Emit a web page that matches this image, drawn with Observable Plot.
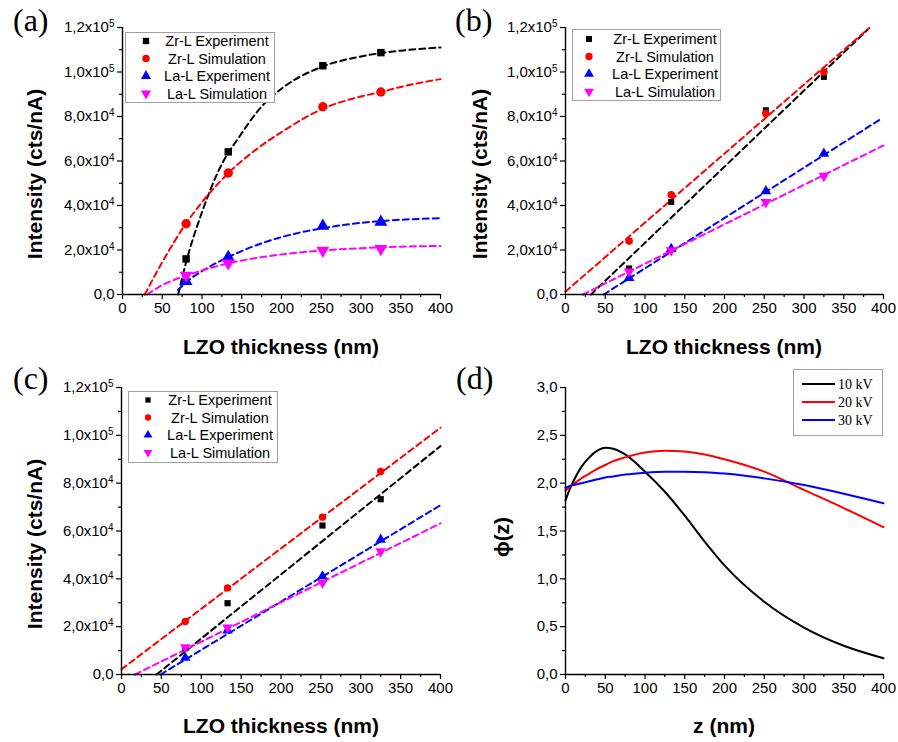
<!DOCTYPE html>
<html><head><meta charset="utf-8">
<script src="https://cdn.jsdelivr.net/npm/d3@7"></script>
<script src="https://cdn.jsdelivr.net/npm/@observablehq/plot@0.6"></script>
<style>
body{margin:0;background:#fff;}
#wrap{position:relative;width:898px;height:742px;overflow:hidden;background:#fff;}
#wrap > svg{position:absolute;}
</style></head><body><div id="wrap"></div>
<script>
// ---------- data ----------
const thickness = [80, 133, 252, 325];
const thicknessTicks = [0, 50, 100, 150, 200, 250, 300, 350, 400];
const thicknessMinor = [25, 75, 125, 175, 225, 275, 325, 375];
const intensityTicks = [0, 20000, 40000, 60000, 80000, 100000, 120000];
const intensityMinor = [10000, 30000, 50000, 70000, 90000, 110000];
const phiTicks = [0, 0.5, 1, 1.5, 2, 2.5, 3];
const phiMinor = [0.25, 0.75, 1.25, 1.75, 2.25, 2.75];

const series = ["Zr-L Experiment", "Zr-L Simulation", "La-L Experiment", "La-L Simulation"];
const seriesColors = ["#000000", "#ff0000", "#0000ff", "#ff00ff"];

// panel (a)
const aZrExp = [16000, 64100, 102800, 108700];
const aZrSim = [31800, 54600, 84400, 91000];
const aLaExp = [6000, 16800, 30800, 32600];
const aLaSim = [8600, 14100, 19800, 20600];
const aZrExpFitX = [70, 80, 100, 120, 150, 175, 200, 252, 300, 325, 350, 400];
const aZrExpFitY = [0, 14500, 37000, 55000, 72500, 84500, 92500, 102500, 107000, 108500, 109600, 111000];
const aZrSimFitX = [28, 50, 80, 100, 133, 175, 200, 252, 300, 325, 350, 400];
const aZrSimFitY = [0, 14500, 32000, 41500, 54500, 67000, 73000, 83500, 89000, 91000, 93300, 96800];
const aLaExpFitX = [70, 80, 100, 133, 175, 200, 252, 300, 325, 350, 400];
const aLaExpFitY = [2000, 5500, 10500, 16800, 23000, 25800, 29800, 32200, 33000, 33600, 34300];
const aLaSimFitX = [31, 50, 80, 100, 133, 175, 200, 252, 300, 325, 350, 400];
const aLaSimFitY = [0, 4200, 8500, 10800, 14000, 16800, 18000, 19800, 20800, 21200, 21500, 21800];

// panel (b)
const bZrExp = [11700, 41600, 82800, 97800];
const bZrSim = [24000, 44800, 81300, 100000];
const bLaExp = [7500, 20500, 46400, 63300];
const bLaSim = [10300, 19800, 41500, 53300];
const bZrExpFitX = [32, 380];   const bZrExpFitY = [0, 119000];
const bZrSimFitX = [0, 382];    const bZrSimFitY = [1300, 119800];
const bLaExpFitX = [48, 395];   const bLaExpFitY = [0, 78500];
const bLaSimFitX = [22, 400];   const bLaSimFitY = [0, 67000];

// panel (c)
const cZrExp = [11000, 29800, 62300, 73300];
const cZrSim = [22200, 36200, 65800, 84900];
const cLaExp = [7000, 18400, 41100, 56400];
const cLaSim = [11400, 19600, 38400, 51500];
const cZrExpFitX = [44, 400];   const cZrExpFitY = [0, 95500];
const cZrSimFitX = [0, 400];    const cZrSimFitY = [2200, 103200];
const cLaExpFitX = [49, 400];   const cLaExpFitY = [0, 70800];
const cLaSimFitX = [17, 400];   const cLaSimFitY = [0, 63200];

// panel (d)
const voltages = ["10 kV", "20 kV", "30 kV"];
const voltageColors = ["#000000", "#ff0000", "#0000ff"];
const dZ = [0, 5, 10, 20, 30, 40, 50, 60, 75, 100, 125, 150, 175, 200, 250, 300, 350, 400];
const d10 = [1.82, 1.93, 2.02, 2.17, 2.27, 2.34, 2.37, 2.36, 2.30, 2.12, 1.91, 1.66, 1.39, 1.14, 0.76, 0.49, 0.30, 0.17];
const d20 = [1.92, 1.96, 1.99, 2.05, 2.10, 2.15, 2.19, 2.23, 2.27, 2.32, 2.34, 2.33, 2.30, 2.25, 2.12, 1.93, 1.74, 1.54];
const d30 = [1.95, 1.97, 1.98, 2.00, 2.02, 2.04, 2.06, 2.07, 2.09, 2.11, 2.12, 2.12, 2.115, 2.10, 2.05, 1.98, 1.89, 1.79];

// ---------- helpers ----------
const FONT = "'Liberation Sans', Arial, sans-serif";
const SERIF = "'Liberation Serif', 'Times New Roman', serif";
const symbolNames = ["square", "circle", "triangle", "triangle"];
const symbolRot = [0, 0, 0, 180];

const fmtI = v => v === 0 ? "0,0" :
  (v >= 100000 ? (v / 1e5).toFixed(1).replace(".", ",") + "x10^5"
               : (v / 1e4).toFixed(1).replace(".", ",") + "x10^4");
const fmtD = v => v.toFixed(1).replace(".", ",");

function axes(xTicks, xMinor, yTicks, yMinor, yFmt) {
  return [
    Plot.axisX(xTicks, {tickSize: 5, tickPadding: 3, strokeWidth: 1.2, label: null, tickFormat: d => String(d)}),
    Plot.axisX(xMinor, {tickSize: 3, strokeWidth: 1.2, label: null, tickFormat: () => ""}),
    Plot.axisY(yTicks, {tickSize: 5, tickPadding: 3, strokeWidth: 1.2, label: null, tickFormat: yFmt}),
    Plot.axisY(yMinor, {tickSize: 3, strokeWidth: 1.2, label: null, tickFormat: () => ""}),
    Plot.ruleX([0], {stroke: "black", strokeWidth: 1.4}),
    Plot.ruleY([0], {stroke: "black", strokeWidth: 1.4})
  ];
}

function place(svg, left, top) {
  svg.style.left = left + "px";
  svg.style.top = top + "px";
  document.getElementById("wrap").appendChild(svg);
  d3.select(svg).selectAll('g[aria-label="y-axis tick label"] text').each(function () {
    const t = this.textContent;
    const m = t.match(/^(.*x10)\^(\d)$/);
    if (m) {
      this.textContent = m[1];
      d3.select(this).append("tspan").attr("dy", "-0.5em").attr("font-size", "10px").text(m[2]);
    }
  });
}

function intensityPanel(cfg) {
  const marks = [];
  cfg.fits.forEach((f, i) => {
    const rows = f[0].map((x, j) => ({x, y: f[1][j]}));
    marks.push(Plot.line(rows, {x: "x", y: "y", stroke: seriesColors[i], strokeWidth: 2,
      strokeDasharray: "6,4", curve: cfg.curve}));
  });
  cfg.points.forEach((vals, i) => {
    const rows = vals.map((v, j) => ({x: thickness[j], y: v}));
    marks.push(Plot.dot(rows, {x: "x", y: "y", symbol: symbolNames[i], rotate: symbolRot[i],
      fill: seriesColors[i], r: cfg.r[i]}));
  });
  marks.push(...axes(thicknessTicks, thicknessMinor, intensityTicks, intensityMinor, fmtI));
  return Plot.plot({
    width: cfg.w, height: cfg.h,
    marginLeft: cfg.ml, marginRight: cfg.mr, marginTop: cfg.mt, marginBottom: cfg.mb,
    x: {domain: [0, 400]}, y: {domain: [0, 120000]},
    style: {background: "transparent", overflow: "visible", fontFamily: FONT, fontSize: "15px", color: "black"},
    marks
  });
}

// ---------- panels ----------
const pa = intensityPanel({
  w: 449, h: 370, ml: 122, mr: 9, mt: 27, mb: 76, curve: "monotone-x",
  r: [4.2, 4.7, 4.8, 4.8],
  points: [aZrExp, aZrSim, aLaExp, aLaSim],
  fits: [[aZrExpFitX, aZrExpFitY], [aZrSimFitX, aZrSimFitY], [aLaExpFitX, aLaExpFitY], [aLaSimFitX, aLaSimFitY]]
});
place(pa, 0, 0);

const pb = intensityPanel({
  w: 449, h: 370, ml: 116, mr: 15, mt: 27, mb: 76, curve: "linear",
  r: [3.4, 3.8, 4, 4],
  points: [bZrExp, bZrSim, bLaExp, bLaSim],
  fits: [[bZrExpFitX, bZrExpFitY], [bZrSimFitX, bZrSimFitY], [bLaExpFitX, bLaExpFitY], [bLaSimFitX, bLaSimFitY]]
});
place(pb, 449, 0);

const pc = intensityPanel({
  w: 449, h: 372, ml: 121, mr: 9, mt: 17, mb: 68, curve: "linear",
  r: [3.5, 3.7, 3.9, 3.9],
  points: [cZrExp, cZrSim, cLaExp, cLaSim],
  fits: [[cZrExpFitX, cZrExpFitY], [cZrSimFitX, cZrSimFitY], [cLaExpFitX, cLaExpFitY], [cLaSimFitX, cLaSimFitY]]
});
place(pc, 0, 370);

const dSeries = [d10, d20, d30];
const dMarks = dSeries.map((vals, i) => Plot.line(vals.map((v, j) => ({z: dZ[j], v})),
  {x: "z", y: "v", stroke: voltageColors[i], strokeWidth: 2, curve: "monotone-x"}));
const pd = Plot.plot({
  width: 449, height: 372, marginLeft: 116, marginRight: 15, marginTop: 17, marginBottom: 68,
  x: {domain: [0, 400]}, y: {domain: [0, 3]},
  style: {background: "transparent", overflow: "visible", fontFamily: FONT, fontSize: "15px", color: "black"},
  marks: [...dMarks, ...axes(thicknessTicks, thicknessMinor, phiTicks, phiMinor, fmtD)]
});
place(pd, 449, 370);

// ---------- overlay: titles, labels, legends ----------
const ov = d3.create("svg").attr("width", 898).attr("height", 742)
  .style("left", "0px").style("top", "0px").style("pointer-events", "none")
  .attr("font-family", FONT);

const panelLabels = [["(a)", 13, 31], ["(b)", 455, 31], ["(c)", 13, 389], ["(d)", 456, 389]];
panelLabels.forEach(([t, x, y]) => ov.append("text").attr("x", x).attr("y", y)
  .attr("font-family", SERIF).attr("font-size", 32).text(t));

const yTitles = [["Intensity (cts/nA)", 42, 174], ["Intensity (cts/nA)", 487, 174],
                 ["Intensity (cts/nA)", 42, 544], ["ϕ(z)", 509, 537]];
yTitles.forEach(([t, x, y]) => ov.append("text").attr("transform", `translate(${x},${y}) rotate(-90)`)
  .attr("text-anchor", "middle").attr("font-weight", "bold").attr("font-size", 21).text(t));

const xTitles = [["LZO thickness (nm)", 281, 354], ["LZO thickness (nm)", 724, 354],
                 ["LZO thickness (nm)", 281, 733], ["z (nm)", 724, 733]];
xTitles.forEach(([t, x, y]) => ov.append("text").attr("x", x).attr("y", y)
  .attr("text-anchor", "middle").attr("font-weight", "bold").attr("font-size", 21).text(t));

const d3Sym = [d3.symbolSquare, d3.symbolCircle, d3.symbolTriangle, d3.symbolTriangle];
function legend(bx, by, bw, bh, rows, symX, textCx, sizes) {
  const g = ov.append("g");
  g.append("rect").attr("x", bx + 0.5).attr("y", by + 0.5).attr("width", bw).attr("height", bh)
    .attr("fill", "white").attr("stroke", "#a0a0a0").attr("stroke-width", 1);
  series.forEach((s, i) => {
    g.append("path").attr("d", d3.symbol().type(d3Sym[i]).size(sizes[i])())
      .attr("transform", `translate(${symX},${rows[i]}) rotate(${symbolRot[i]})`)
      .attr("fill", seriesColors[i]);
    g.append("text").attr("x", textCx).attr("y", rows[i] + 5).attr("text-anchor", "middle")
      .attr("font-size", 14.5).text(s);
  });
}
legend(125, 32, 149, 70, [41, 58.5, 76, 93.5], 146, 217, [40, 45, 45, 45]);
legend(572, 29, 148, 71, [39, 56.5, 74, 91.5], 589, 665, [36, 42, 42, 42]);
legend(128, 391, 149, 71, [400, 417.5, 435, 452.5], 148, 220, [28, 32, 34, 34]);

// legend (d)
const gd = ov.append("g");
gd.append("rect").attr("x", 793.5).attr("y", 369.5).attr("width", 89).attr("height", 66)
  .attr("fill", "white").attr("stroke", "#a0a0a0");
voltages.forEach((v, i) => {
  const y = 384 + i * 18;
  gd.append("line").attr("x1", 802).attr("x2", 835).attr("y1", y).attr("y2", y)
    .attr("stroke", voltageColors[i]).attr("stroke-width", 2.2);
  gd.append("text").attr("x", 838).attr("y", y + 5).attr("font-family", SERIF)
    .attr("font-size", 14).text(v);
});

document.getElementById("wrap").appendChild(ov.node());
</script></body></html>
